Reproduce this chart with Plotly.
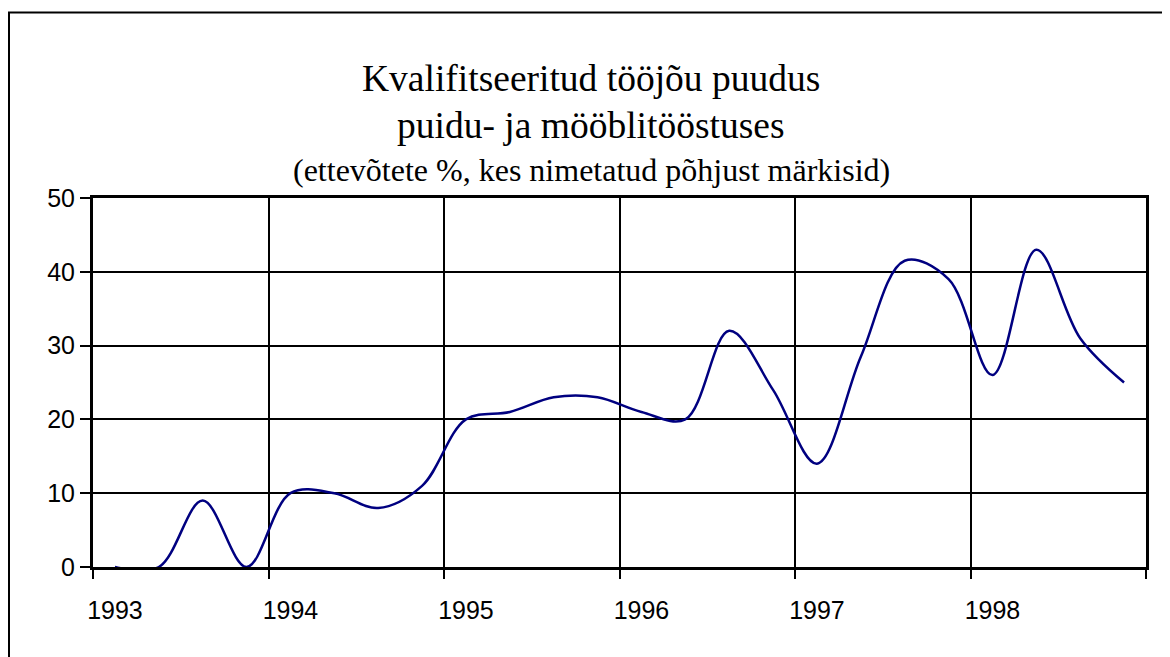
import plotly.graph_objects as go

# ---- data (quarterly, 1993 Q1 .. 1998 Q4) ----
years = ["1993", "1994", "1995", "1996", "1997", "1998"]
quarters_per_year = 4
values = [0, 0, 9, 0,
          10, 10, 8, 11,
          20, 21, 23, 23,
          21, 20, 32, 24,
          14, 28.5, 41.5, 39,
          26, 43, 31, 25]
title_lines = ["Kvalifitseeritud tööjõu puudus",
               "puidu- ja mööblitööstuses",
               "(ettevõtete %, kes nimetatud põhjust märkisid)"]
y_range = [0, 50]
y_step = 10

n = len(values)
x_idx = list(range(n))
label_pos = [i * quarters_per_year for i in range(len(years))]

OFF = 8  # page body margin
W, H = 1170 - OFF, 657 - OFF
ML = 93 - OFF
MT = 198 - OFF
MR = W - (1146 - OFF)
MB = H - (567 - OFF)
PW, PH = W - ML - MR, H - MT - MB


def px_to_paper_x(px):
    return (px - OFF - ML) / PW


def px_to_paper_y(py):
    return (H - MB - (py - OFF)) / PH


fig = go.Figure()
fig.add_trace(go.Scatter(
    x=x_idx, y=values, mode="lines",
    line=dict(color="#000080", width=2.5, shape="spline", smoothing=1.0),
    hoverinfo="skip", showlegend=False, cliponaxis=False,
))

fig.update_layout(
    width=W, height=H,
    margin=dict(l=ML, r=MR, t=MT, b=MB),
    paper_bgcolor="white", plot_bgcolor="white",
    showlegend=False,
    xaxis=dict(
        range=[-0.5, n - 0.5],
        tickmode="array",
        tickvals=label_pos,
        ticktext=years,
        ticks="outside", ticklen=19, tickcolor="rgba(0,0,0,0)",
        showgrid=False, zeroline=False,
        showline=True, linecolor="black", linewidth=3, mirror=True,
        tickfont=dict(family="Liberation Sans, Arial", size=25, color="black"),
        minor=dict(
            tickmode="linear", tick0=-0.5, dtick=quarters_per_year,
            ticks="outside", ticklen=9, tickwidth=2, tickcolor="black",
            showgrid=True, gridcolor="black", gridwidth=2,
        ),
        layer="below traces",
        fixedrange=True,
    ),
    yaxis=dict(
        range=y_range, dtick=y_step, tick0=0,
        ticks="outside", ticklen=10, tickwidth=2, tickcolor="black",
        showgrid=True, gridcolor="black", gridwidth=2,
        zeroline=False,
        showline=True, linecolor="black", linewidth=3, mirror=True,
        tickfont=dict(family="Liberation Sans, Arial", size=25, color="black"),
        layer="below traces",
        fixedrange=True,
    ),
)

# outer chart frame (extends beyond the right/bottom of the view)
fig.add_shape(type="rect", xref="paper", yref="paper",
              x0=px_to_paper_x(9), x1=px_to_paper_x(1200),
              y0=px_to_paper_y(700), y1=px_to_paper_y(12.5),
              line=dict(color="black", width=2), fillcolor="rgba(0,0,0,0)",
              layer="below")

# title lines
title_specs = [(title_lines[0], 79, 37.5), (title_lines[1], 125.5, 37.5), (title_lines[2], 170, 32)]
for txt, ymid, size in title_specs:
    fig.add_annotation(text=txt, xref="paper", yref="paper",
                       x=px_to_paper_x(591), y=px_to_paper_y(ymid),
                       xanchor="center", yanchor="middle", showarrow=False,
                       font=dict(family="Liberation Serif, Times New Roman", size=size, color="black"))

fig.write_html("out.html")
